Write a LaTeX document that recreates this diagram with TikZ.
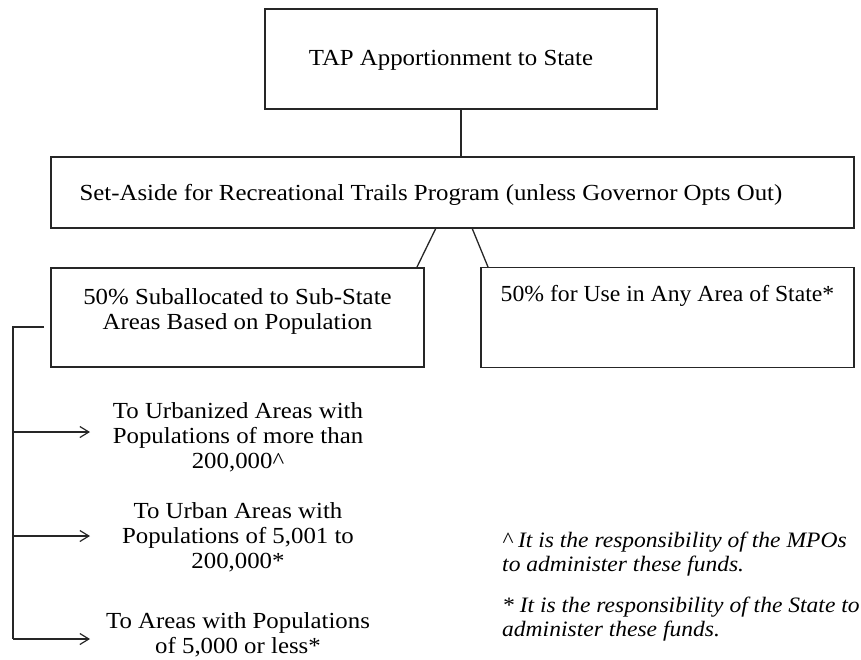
\documentclass[tikz,border=0pt]{standalone}
\usepackage{fontspec}
\setmainfont{Liberation Serif}[FakeStretch=1.08]
\newfontfamily\plainfont{Liberation Serif}[FakeStretch=1.03]
\newfontfamily\notefont{Liberation Serif}[FakeStretch=1.07]
\usetikzlibrary{arrows.meta}
\begin{document}
\begin{tikzpicture}[x=1pt,y=-1pt,
  box/.style={draw=black!85, line width=1.5pt, rectangle, inner sep=0pt},
  txt/.style={align=center, inner sep=0pt, font=\fontsize{23}{25}\selectfont},
  note/.style={align=left, anchor=west, inner sep=0pt, font=\notefont\fontsize{22}{24}\selectfont\itshape},
  conn/.style={draw=black!85, line width=1.3pt},
  arr/.style={conn, -{Straight Barb[length=9pt,width=11pt,line width=1.2pt]}}
]
\useasboundingbox (0,0) rectangle (861,659);
% boxes
\node[box, minimum width=392pt, minimum height=100pt] (top) at (461,59) {};
\node[txt] (topt) at (451,60) {TAP Apportionment to State};
\node[box, minimum width=803pt, minimum height=71pt] (set) at (452.5,192.5) {};
\node[txt] (sett) at (431,195) {Set-Aside for Recreational Trails Program (unless Governor Opts Out)};
\node[box, minimum width=373pt, minimum height=99pt] (sub) at (237.5,317.5) {};
\node[txt] (subt) at (237.5,311) {50\% Suballocated to Sub-State\\Areas Based on Population};
\node[box, minimum width=373pt, minimum height=100pt] (any) at (667.5,317.5) {};
\node[txt, font=\plainfont\fontsize{23}{25}\selectfont] (anyt) at (667.5,296) {50\% for Use in Any Area of State*};
% connectors
\draw[conn] (top.south) -- (set.north -| top.south);
\coordinate (d1a) at (436,228);
\coordinate (d1b) at (417,267);
\coordinate (d2a) at (472,228);
\coordinate (d2b) at (488,267);
\draw[conn] (d1a) -- (d1b);
\draw[conn] (d2a) -- (d2b);
% bracket
\coordinate (bs) at (44,327);
\coordinate (bc) at (13,327);
\node[txt] (u1) at (238,437.5) {To Urbanized Areas with\\Populations of more than\\200,000\^{}};
\node[txt] (u2) at (238,537) {To Urban Areas with\\Populations of 5,001 to\\200,000*};
\node[txt] (u3) at (238,635) {To Areas with Populations\\of 5,000 or less*};
\coordinate (a1) at (13,432);
\coordinate (a2) at (13,536);
\coordinate (a3) at (13,639);
\draw[conn] (bs) -- (bc) -- (a3);
\draw[arr] (a1) -- (90,432);
\draw[arr] (a2) -- (90,536);
\draw[arr] (a3) -- (90,639);
% notes
\node[note] (n1) at (502,554) {\^{} It is the responsibility of the MPOs\\to administer these funds.};
\node[note] (n2) at (502,619) {* It is the responsibility of the State to\\administer these funds.};
\end{tikzpicture}
\end{document}
